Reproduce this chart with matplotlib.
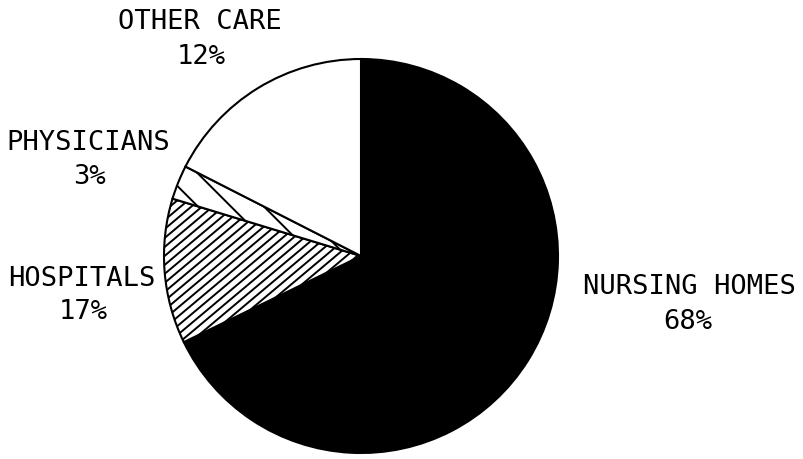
import numpy as np
import matplotlib
matplotlib.use("Agg")
import matplotlib.pyplot as plt

# wedge shares as drawn (clockwise from 12 o'clock)
categories = ["NURSING HOMES", "HOSPITALS", "PHYSICIANS", "OTHER CARE"]
shares = [67.8, 11.9, 2.8, 17.5]
# percentages as printed on the chart
shown_pct = ["68%", "17%", "3%", "12%"]

fills = ["black", "white", "white", "white"]

# label anchor points (pixels, y measured from top)
name_pos = [(689, 287), (82, 279), (88, 143), (200, 22)]
pct_pos = [(688, 322), (83, 312), (90, 177), (201, 57)]

W, H = 804, 460
cx, cy, r = 361, H - 257, 197

fig = plt.figure(figsize=(8.04, 4.6), dpi=100)
ax = fig.add_axes([0, 0, 1, 1])

wedges, _ = ax.pie(shares, colors=fills, startangle=90, counterclock=False,
                   center=(cx, cy), radius=r,
                   wedgeprops=dict(edgecolor="black", linewidth=1.5))


def hatch(patch, angle, step, lw):
    # parallel lines clipped to a wedge
    a = np.deg2rad(angle)
    d = np.array([np.cos(a), np.sin(a)])
    n = np.array([-d[1], d[0]])
    gap = step * abs(np.sin(a))
    for off in np.arange(-r, r + gap, gap):
        p = np.array([cx, cy]) + n * off
        p1, p2 = p - d * r * 1.2, p + d * r * 1.2
        ln, = ax.plot([p1[0], p2[0]], [p1[1], p2[1]], color="black",
                      lw=lw, solid_capstyle="butt", zorder=1.5)
        ln.set_clip_path(patch)


hatch(wedges[1], 40, 10.7, 1.4)
hatch(wedges[2], -45, 33, 1.4)

for name, pct, (nx, ny), (px, py) in zip(categories, shown_pct, name_pos, pct_pos):
    ax.text(nx, H - ny, name, ha="center", va="center",
            fontsize=19.5, family="DejaVu Sans Mono")
    ax.text(px, H - py, pct, ha="center", va="center",
            fontsize=19.5, family="DejaVu Sans Mono")

ax.set_xlim(0, W)
ax.set_ylim(0, H)
ax.set_aspect("equal")
ax.axis("off")

fig.savefig("out.png", dpi=100, facecolor="white")
